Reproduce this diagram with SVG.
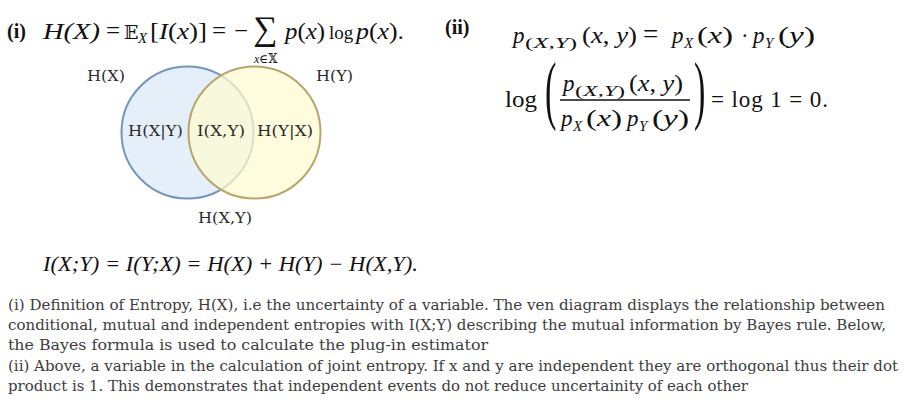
<svg xmlns="http://www.w3.org/2000/svg" width="912" height="410" viewBox="0 0 912 410">
<style>
.m{font-family:"Liberation Serif","DejaVu Serif",serif;fill:#111}
.i{font-style:italic}
.b{font-weight:bold}
.lbl{font-family:"DejaVu Serif","Liberation Serif",serif;fill:#2b2b2b;font-size:15.5px}
.cap{font-family:"DejaVu Serif","Liberation Serif",serif;fill:#3c3c3c;font-size:15.2px}
</style>
<rect width="912" height="410" fill="#ffffff"/>

<g id="eq-i" font-size="23">
<text class="m b" x="7" y="38" font-size="20">(i)</text>
<text class="m i" x="43" y="39" textLength="57" lengthAdjust="spacingAndGlyphs">H(X)</text>
<text class="m" x="106" y="39" font-size="25">=</text>
<text class="m" x="124" y="39" font-size="19" font-family="DejaVu Serif, DejaVu Sans, serif">𝔼</text>
<text class="m i" x="138" y="43" font-size="15">X</text>
<text class="m" x="150" y="39" textLength="57" lengthAdjust="spacingAndGlyphs">[<tspan class="i">I</tspan>(<tspan class="i">x</tspan>)]</text>
<text class="m" x="212" y="39" font-size="25">=</text>
<text class="m" x="234" y="39" font-size="25">−</text>
<text class="m" x="253" y="40" font-size="34">∑</text>
<text class="m i" x="254" y="63" font-size="12">x<tspan font-style="normal">∈</tspan><tspan font-style="normal" font-family="DejaVu Serif, DejaVu Sans, serif">𝕏</tspan></text>
<text class="m" x="285" y="39" textLength="40" lengthAdjust="spacingAndGlyphs"><tspan class="i">p</tspan>(<tspan class="i">x</tspan>)</text>
<text class="m" x="329" y="39" font-size="19">log</text>
<text class="m" x="356" y="39" textLength="48" lengthAdjust="spacingAndGlyphs"><tspan class="i">p</tspan>(<tspan class="i">x</tspan>).</text>
</g>

<g id="eq-ii" font-size="23">
<text class="m b" x="445" y="34" font-size="20">(ii)</text>
<text class="m i" x="513" y="43">p</text>
<text class="m" x="525" y="48" font-size="15" textLength="52" lengthAdjust="spacingAndGlyphs">(<tspan class="i">X</tspan>,<tspan class="i">Y</tspan>)</text>
<text class="m" x="582" y="43" textLength="55" lengthAdjust="spacingAndGlyphs">(<tspan class="i">x</tspan>, <tspan class="i">y</tspan>)</text>
<text class="m" x="643" y="43" font-size="27">=</text>
<text class="m i" x="672" y="43">p</text>
<text class="m i" x="684" y="48" font-size="15">X</text>
<text class="m" x="697" y="43" textLength="36" lengthAdjust="spacingAndGlyphs">(<tspan class="i">x</tspan>)</text>
<text class="m" x="741" y="43">·</text>
<text class="m i" x="753" y="43">p</text>
<text class="m i" x="765" y="48" font-size="15">Y</text>
<text class="m" x="778" y="43" textLength="37" lengthAdjust="spacingAndGlyphs">(<tspan class="i">y</tspan>)</text>

<text class="m" x="505" y="107" textLength="32" lengthAdjust="spacingAndGlyphs">log</text>
<text class="m" transform="translate(545,115) scale(0.45,1)" font-size="76">(</text>
<text class="m i" x="563" y="91">p</text>
<text class="m" x="575" y="96" font-size="15" textLength="50" lengthAdjust="spacingAndGlyphs">(<tspan class="i">X</tspan>,<tspan class="i">Y</tspan>)</text>
<text class="m" x="629" y="91" textLength="54" lengthAdjust="spacingAndGlyphs">(<tspan class="i">x</tspan>, <tspan class="i">y</tspan>)</text>
<line x1="560" y1="100" x2="690" y2="100" stroke="#111" stroke-width="1.3"/>
<text class="m i" x="561" y="126">p</text>
<text class="m i" x="573" y="131" font-size="15">X</text>
<text class="m" x="586" y="126" textLength="36" lengthAdjust="spacingAndGlyphs">(<tspan class="i">x</tspan>)</text>
<text class="m i" x="627" y="126">p</text>
<text class="m i" x="639" y="131" font-size="15">Y</text>
<text class="m" x="652" y="126" textLength="37" lengthAdjust="spacingAndGlyphs">(<tspan class="i">y</tspan>)</text>
<text class="m" transform="translate(694,115) scale(0.45,1)" font-size="76">)</text>
<text class="m" x="711" y="107" textLength="117">= log 1 = 0.</text>
</g>

<g id="venn">
<circle id="hx" cx="187.5" cy="132.5" r="66" fill="#e5effa" stroke="#7496ba" stroke-width="2"/>
<circle id="hy" cx="254.5" cy="132.5" r="66" fill="#fffbd0" fill-opacity="0.72" stroke="#b8a56c" stroke-width="2"/>
<text class="lbl" x="87" y="81" textLength="38" lengthAdjust="spacingAndGlyphs">H(X)</text>
<text class="lbl" x="316" y="81" textLength="37" lengthAdjust="spacingAndGlyphs">H(Y)</text>
<text class="lbl" x="128" y="136" textLength="55" lengthAdjust="spacingAndGlyphs">H(X|Y)</text>
<text class="lbl" x="197" y="136" textLength="48" lengthAdjust="spacingAndGlyphs">I(X,Y)</text>
<text class="lbl" x="257" y="136" textLength="56" lengthAdjust="spacingAndGlyphs">H(Y|X)</text>
<text class="lbl" x="198" y="223" textLength="54" lengthAdjust="spacingAndGlyphs">H(X,Y)</text>
</g>

<g id="eq-mi">
<text class="m i" x="43" y="271" font-size="21" textLength="375" lengthAdjust="spacingAndGlyphs">I(X;Y) = I(Y;X) = H(X) + H(Y) − H(X,Y).</text>
</g>

<g id="caption">
<text class="cap" x="8" y="310" textLength="877" lengthAdjust="spacingAndGlyphs">(i) Definition of Entropy, H(X), i.e the uncertainty of a variable. The ven diagram displays the relationship between</text>
<text class="cap" x="8" y="330" textLength="878" lengthAdjust="spacingAndGlyphs">conditional, mutual and independent entropies with I(X;Y) describing the mutual information by Bayes rule. Below,</text>
<text class="cap" x="8" y="350" textLength="480" lengthAdjust="spacingAndGlyphs">the Bayes formula is used to calculate the plug-in estimator</text>
<text class="cap" x="8" y="371" textLength="890" lengthAdjust="spacingAndGlyphs">(ii) Above, a variable in the calculation of joint entropy. If x and y are independent they are orthogonal thus their dot</text>
<text class="cap" x="8" y="391" textLength="740" lengthAdjust="spacingAndGlyphs">product is 1. This demonstrates that independent events do not reduce uncertainity of each other</text>
</g>
</svg>
